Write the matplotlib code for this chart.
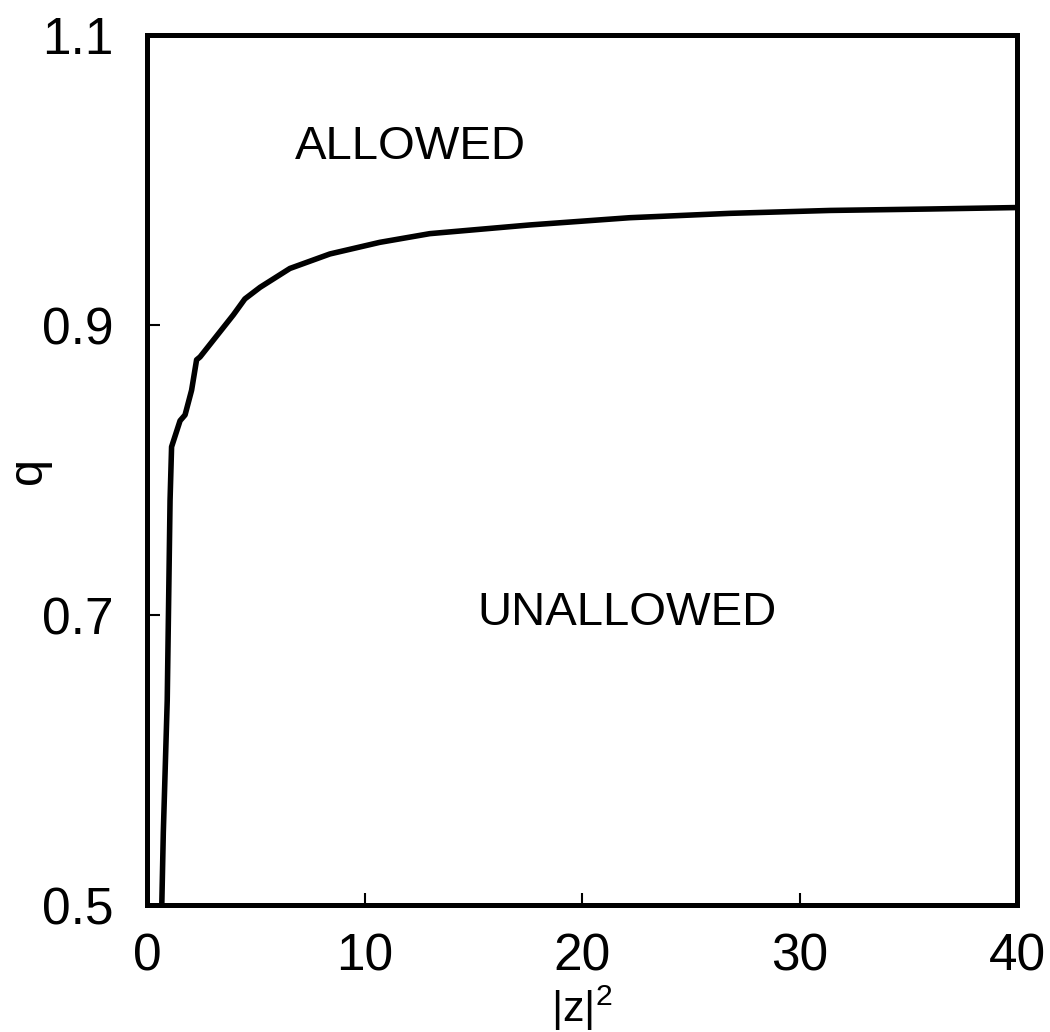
"""Boundary between allowed and unallowed q as a function of |z|^2."""
import matplotlib
matplotlib.use("Agg")
import matplotlib.pyplot as plt

# boundary curve
z2 = [0.68, 0.75, 0.93, 1.06, 1.13, 1.52, 1.75, 2.05, 2.28, 2.44, 3.97,
      4.5, 5.2, 6.57, 8.41, 10.7, 13.0, 17.6, 22.2, 26.8, 31.4, 36.0, 40.0]
q = [0.500, 0.550, 0.641, 0.779, 0.816, 0.834, 0.838, 0.855, 0.876, 0.878,
     0.907, 0.918, 0.926, 0.939, 0.949, 0.957, 0.963, 0.969, 0.974, 0.977,
     0.979, 0.980, 0.981]

x_ticks = [0, 10, 20, 30, 40]
y_ticks = [0.5, 0.7, 0.9, 1.1]
region_labels = ["ALLOWED", "UNALLOWED"]
region_pos = [(12.1, 1.0226), (22.05, 0.7017)]

plt.rcParams["font.family"] = ["Liberation Sans", "DejaVu Sans"]
plt.rcParams["mathtext.fontset"] = "custom"
plt.rcParams["mathtext.rm"] = "Liberation Sans"
plt.rcParams["mathtext.it"] = "Liberation Sans"
plt.rcParams["mathtext.default"] = "regular"

fig = plt.figure(figsize=(10.5, 10.32), dpi=100)
ax = fig.add_axes([0.140, 0.123, 0.8286, 0.8431])

ax.plot(z2, q, color="black", linewidth=4.0, solid_joinstyle="round")

for text, (tx, ty) in zip(region_labels, region_pos):
    ax.text(tx, ty, text, ha="center", va="center", fontsize=34)

ax.set_xlim(0, 40)
ax.set_ylim(0.5, 1.1)
ax.set_xticks(x_ticks)
ax.set_yticks(y_ticks)
ax.set_xticklabels([str(v) for v in x_ticks])
ax.set_yticklabels([f"{v:.1f}" for v in y_ticks])
ax.tick_params(direction="in", length=9, width=1.5, labelsize=37)
ax.tick_params(axis="x", pad=20)
ax.tick_params(axis="y", pad=24)

for sp in ax.spines.values():
    sp.set_linewidth(3.6)

ax.set_xlabel(r"$|z|^2$", fontsize=31)
ax.xaxis.set_label_coords(0.5, -0.09)
ax.set_ylabel("q", fontsize=35)
ax.yaxis.set_label_coords(-0.11, 0.5)

fig.savefig("out.png", dpi=100)
plt.close(fig)
